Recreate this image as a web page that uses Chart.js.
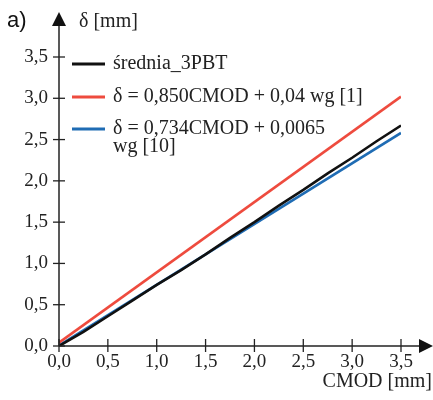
<!DOCTYPE html>
<html><head><meta charset="utf-8">
<script src="https://cdn.jsdelivr.net/npm/chart.js@4/dist/chart.umd.min.js"></script>
<style>html,body{margin:0;padding:0;background:#fff}#wrap{position:relative;width:433px;height:400px}</style>
</head><body><div id="wrap"><canvas id="c" width="433" height="400"></canvas></div>
<script>
// ---- data ----
const axisTicks = [0, 0.5, 1.0, 1.5, 2.0, 2.5, 3.0, 3.5];
const meanX = [0, 0.25, 0.5, 0.75, 1.0, 1.25, 1.5, 1.75, 2.0, 2.25, 2.5, 2.75, 3.0, 3.25, 3.5];
const meanY = [0, 0.17, 0.36, 0.55, 0.74, 0.92, 1.11, 1.31, 1.50, 1.70, 1.89, 2.09, 2.28, 2.48, 2.67];
const redX = [0, 3.5];
const redY = [0.04, 3.02];
const blueX = [0, 3.5];
const blueY = [0.0065, 2.58];
const seriesNames = [['średnia_3PBT'], ['δ = 0,850CMOD + 0,04 wg [1]'], ['δ = 0,734CMOD + 0,0065', 'wg [10]']];
const seriesColors = ['#111111', '#ee4b3e', '#1f6cb4'];
const xTitle = 'CMOD [mm]';
const yTitle = 'δ [mm]';
const panelLabel = 'a)';

const toPts = (xs, ys) => xs.map((x, i) => ({x: x, y: ys[i]}));
const fmt = v => Number(v).toFixed(1).replace('.', ',');
const SERIF = "'Liberation Serif', 'DejaVu Serif', serif";

const axesPlugin = {
  id: 'axesPlugin',
  afterDraw(chart) {
    const ctx = chart.ctx;
    const xs = chart.scales.x, ys = chart.scales.y;
    const x0 = xs.getPixelForValue(0), y0 = ys.getPixelForValue(0);
    ctx.save();
    ctx.strokeStyle = '#222'; ctx.fillStyle = '#111'; ctx.lineWidth = 1.5;
    // x axis
    ctx.beginPath(); ctx.moveTo(x0, y0); ctx.lineTo(422, y0); ctx.stroke();
    ctx.beginPath(); ctx.moveTo(433, y0); ctx.lineTo(419, y0 - 7); ctx.lineTo(419, y0 + 7); ctx.closePath(); ctx.fill();
    // y axis
    ctx.beginPath(); ctx.moveTo(x0, y0); ctx.lineTo(x0, 24); ctx.stroke();
    ctx.beginPath(); ctx.moveTo(x0, 12); ctx.lineTo(x0 - 7, 26); ctx.lineTo(x0 + 7, 26); ctx.closePath(); ctx.fill();
    // ticks
    ctx.lineWidth = 1.3;
    axisTicks.forEach(v => {
      const px = xs.getPixelForValue(v);
      ctx.beginPath(); ctx.moveTo(px, y0 - 7); ctx.lineTo(px, y0 + 6); ctx.stroke();
      const py = ys.getPixelForValue(v);
      ctx.beginPath(); ctx.moveTo(x0 - 6, py); ctx.lineTo(x0 + 6, py); ctx.stroke();
    });
    // titles
    ctx.fillStyle = '#222';
    ctx.textBaseline = 'middle';
    ctx.textAlign = 'left';
    ctx.font = '20px ' + SERIF;
    ctx.fillText(yTitle, 79, 22);
    ctx.textAlign = 'right';
    ctx.fillText(xTitle, 432, 382);
    ctx.textAlign = 'left';
    ctx.font = "22px 'Liberation Sans', Arial, sans-serif";
    ctx.fillStyle = '#111';
    ctx.fillText(panelLabel, 7, 21);
    // legend
    const rows = [64, 97, 129];
    ctx.font = '20px ' + SERIF;
    ctx.fillStyle = '#222';
    seriesNames.forEach((lines, i) => {
      ctx.strokeStyle = seriesColors[i]; ctx.lineWidth = 3;
      ctx.beginPath(); ctx.moveTo(72, rows[i]); ctx.lineTo(105, rows[i]); ctx.stroke();
      lines.forEach((t, j) => ctx.fillText(t, 113, rows[i] + j * 18));
    });
    ctx.restore();
  }
};

new Chart(document.getElementById('c'), {
  type: 'scatter',
  data: {
    datasets: [
      {label: seriesNames[0].join(' '), data: toPts(meanX, meanY), borderColor: seriesColors[0], showLine: true, pointRadius: 0, borderWidth: 2.6, tension: 0},
      {label: seriesNames[1].join(' '), data: toPts(redX, redY), borderColor: seriesColors[1], showLine: true, pointRadius: 0, borderWidth: 2.6},
      {label: seriesNames[2].join(' '), data: toPts(blueX, blueY), borderColor: seriesColors[2], showLine: true, pointRadius: 0, borderWidth: 2.6}
    ]
  },
  options: {
    responsive: false, animation: false,
    layout: {padding: {left: 0, right: 32, top: 57, bottom: 0}},
    plugins: {legend: {display: false}, tooltip: {enabled: false}},
    scales: {
      x: {
        type: 'linear', min: 0, max: 3.5,
        afterBuildTicks: s => { s.ticks = axisTicks.map(v => ({value: v})); },
        afterFit: s => { s.height = 54; },
        grid: {display: false, drawTicks: false}, border: {display: false},
        ticks: {callback: fmt, padding: 5, maxRotation: 0, autoSkip: false, color: '#222', font: {family: SERIF, size: 19}}
      },
      y: {
        type: 'linear', min: 0, max: 3.5,
        afterBuildTicks: s => { s.ticks = axisTicks.map(v => ({value: v})); },
        afterFit: s => { s.width = 59; },
        grid: {display: false, drawTicks: false}, border: {display: false},
        ticks: {callback: fmt, padding: 11, color: '#222', font: {family: SERIF, size: 19}}
      }
    }
  },
  plugins: [axesPlugin]
});
</script></body></html>
